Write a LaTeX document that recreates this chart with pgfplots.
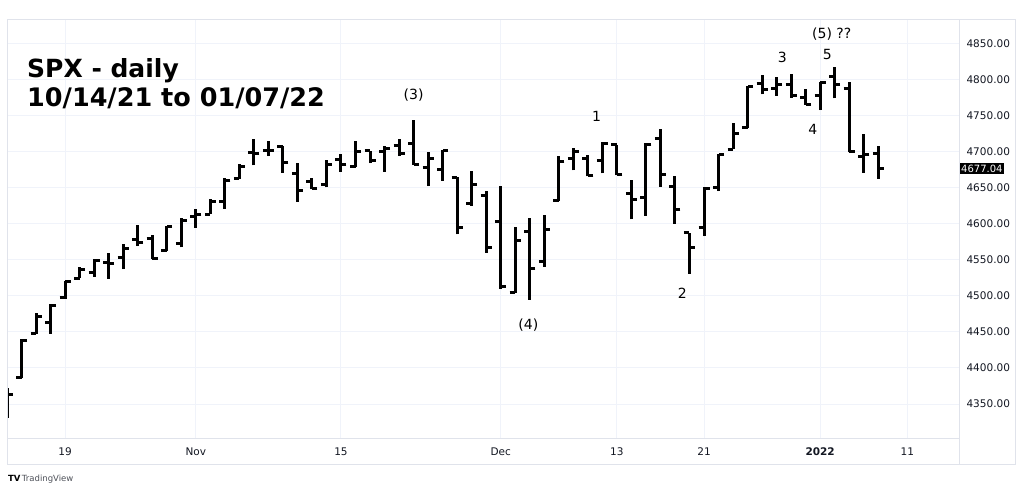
\documentclass[border=0pt]{standalone}
\usepackage{fontspec}
\setmainfont{DejaVu Sans}
\usepackage{pgfplots}
\usepackage{pgfplotstable}
\pgfplotsset{compat=1.18}
\definecolor{tvgrid}{HTML}{F0F3FA}
\definecolor{tvline}{HTML}{E0E3EB}
\definecolor{tvtext}{HTML}{131722}

% open tick to the left, close tick to the right
\pgfdeclareplotmark{otick}{%
  \pgfpathmoveto{\pgfqpoint{-\pgfplotmarksize}{0pt}}%
  \pgfpathlineto{\pgfqpoint{0pt}{0pt}}%
  \pgfusepathqstroke}
\pgfdeclareplotmark{ctick}{%
  \pgfpathmoveto{\pgfqpoint{\pgfplotmarksize}{0pt}}%
  \pgfpathlineto{\pgfqpoint{0pt}{0pt}}%
  \pgfusepathqstroke}

% SPX daily, Oct 13 2021 .. Jan 7 2022 (bar index, open, high, low, close)
\pgfplotstableread{
i o h l c
0 4358.01 4372.87 4329.92 4363.80
1 4386.75 4439.73 4386.75 4438.26
2 4447.69 4475.82 4447.69 4471.37
3 4463.72 4488.75 4447.47 4486.46
4 4497.34 4520.40 4496.41 4519.63
5 4524.42 4540.87 4524.40 4536.19
6 4532.24 4551.44 4526.89 4549.78
7 4546.12 4559.67 4524.00 4544.90
8 4553.69 4572.62 4537.36 4566.48
9 4578.69 4598.53 4569.17 4574.79
10 4580.22 4584.57 4551.66 4551.68
11 4562.84 4597.55 4562.84 4596.42
12 4572.87 4608.08 4567.59 4605.38
13 4610.62 4620.34 4595.06 4613.67
14 4613.34 4635.15 4613.34 4630.65
15 4630.65 4663.46 4621.19 4660.57
16 4662.93 4683.00 4662.59 4680.06
17 4699.26 4718.50 4681.32 4697.53
18 4701.48 4714.92 4694.39 4701.70
19 4707.25 4708.53 4670.87 4685.25
20 4670.26 4684.85 4630.86 4646.71
21 4659.39 4664.55 4648.31 4649.27
22 4655.24 4688.47 4650.77 4682.85
23 4689.30 4697.42 4672.86 4682.80
24 4679.42 4714.95 4679.42 4700.90
25 4701.50 4701.50 4684.41 4688.67
26 4700.72 4708.80 4672.78 4704.54
27 4708.44 4717.75 4694.22 4697.96
28 4712.00 4743.83 4682.17 4682.94
29 4678.48 4699.39 4652.66 4690.70
30 4675.78 4702.87 4659.89 4701.46
31 4664.63 4664.63 4585.43 4594.62
32 4628.75 4672.95 4625.26 4655.27
33 4640.25 4646.02 4560.00 4567.00
34 4602.82 4652.94 4510.27 4513.04
35 4504.73 4595.46 4504.73 4577.10
36 4589.49 4608.03 4495.12 4538.43
37 4548.37 4612.60 4540.51 4591.67
38 4631.97 4694.04 4631.97 4686.75
39 4690.86 4705.06 4674.52 4701.21
40 4691.00 4695.26 4665.98 4667.45
41 4687.64 4713.57 4670.24 4712.02
42 4710.30 4710.30 4667.60 4668.97
43 4642.99 4660.47 4606.52 4634.09
44 4636.46 4712.60 4611.22 4709.85
45 4719.13 4731.99 4651.89 4668.67
46 4652.50 4666.70 4600.22 4620.64
47 4587.90 4587.90 4531.10 4568.02
48 4594.96 4651.14 4583.16 4649.23
49 4650.36 4697.67 4645.53 4696.56
50 4703.96 4740.74 4703.96 4725.79
51 4733.99 4791.49 4733.99 4791.19
52 4795.49 4807.02 4780.04 4786.35
53 4788.64 4804.06 4778.08 4793.06
54 4794.23 4808.93 4775.33 4778.73
55 4775.21 4786.83 4765.75 4766.18
56 4778.14 4796.64 4758.17 4796.56
57 4804.51 4818.62 4774.27 4793.54
58 4787.99 4797.70 4699.44 4700.58
59 4693.39 4725.01 4671.26 4696.05
60 4697.66 4707.95 4662.74 4677.03
}\ohlc

\begin{document}
\begin{tikzpicture}
\path[use as bounding box, fill=white] (0,0) rectangle (1023pt,492pt);
\begin{axis}[
  at={(7pt,53pt)}, anchor=south west,
  scale only axis, width=952pt, height=419pt,
  xmin=0, xmax=65.56, ymin=4301.4, ymax=4883.3,
  axis x line*=bottom, axis y line*=right,
  axis line style={draw=tvline, line width=1pt, -},
  xtick={4,13,23,34,42,48,56,62},
  xticklabels={19,Nov,15,Dec,13,21,\textbf{2022},11},
  ytick={4350,4400,...,4850},
  yticklabel style={xshift=4pt},
  xticklabel style={yshift=-5pt},
  /pgf/number format/fixed,
  /pgf/number format/fixed zerofill,
  /pgf/number format/precision=2,
  /pgf/number format/1000 sep={},
  /pgf/number format/assume math mode=true,
  tick label style={font=\fontsize{10.5}{12}\selectfont, text=tvtext},
  major tick length=0pt,
  grid=major, major grid style={draw=tvgrid, line width=1pt},
  clip mode=global, clip marker paths=true,
]
% high-low range
\addplot[black, only marks, mark=*, mark size=0pt,
  mark options={draw=none, fill=none},
  error bars/.cd, y dir=plus, y explicit, error mark=none,
  error bar style={black, line width=3pt, line cap=butt}]
  table[x=i, y=l, y error plus expr=\thisrow{h}-\thisrow{l}] {\ohlc};
% open ticks
\addplot[black, only marks, mark=otick, mark size=5.5pt, line width=3pt,
  mark options={line cap=butt}] table[x=i, y=o] {\ohlc};
% close ticks
\addplot[black, only marks, mark=ctick, mark size=5.5pt, line width=3pt,
  mark options={line cap=butt}] table[x=i, y=c] {\ohlc};

% wave labels
\begin{scope}[every node/.style={font=\fontsize{14}{16}\selectfont, text=black}]
\node at (axis cs:28,4779) {(3)};
\node at (axis cs:35.9,4460) {(4)};
\node at (axis cs:40.6,4749) {1};
\node at (axis cs:46.5,4504) {2};
\node at (axis cs:53.4,4831) {3};
\node at (axis cs:55.5,4732) {4};
\node at (axis cs:56.5,4835) {5};
\node at (axis cs:56.8,4863) {(5) ??};
\end{scope}
\coordinate (last) at (axis cs:65.56,4677.04);
\end{axis}

% chart frame: outer border and price-scale separator
\draw[tvline, line width=1pt] (7pt,27pt) rectangle (1015pt,472pt);
\draw[tvline, line width=1pt] (959pt,27pt) -- (959pt,472pt);

% last price tag
\node[fill=black, text=white, inner xsep=1.5pt, inner ysep=2pt, anchor=west,
  font=\fontsize{10}{12}\selectfont] at ([xshift=0.5pt]last) {4677.04};

% title
\node[anchor=base west, inner sep=0pt, font=\fontsize{25}{30}\bfseries]
  at (27pt,414pt) {SPX - daily};
\node[anchor=base west, inner sep=0pt, font=\fontsize{25.5}{30}\bfseries]
  at (27pt,385pt) {10/14/21 to 01/07/22};

% logo
\node[anchor=west, inner sep=0pt, font=\fontsize{8.5}{10}\selectfont]
  at (8pt,13pt) {\textbf{TV}\,\textcolor{tvtext!75}{TradingView}};
\end{tikzpicture}
\end{document}
